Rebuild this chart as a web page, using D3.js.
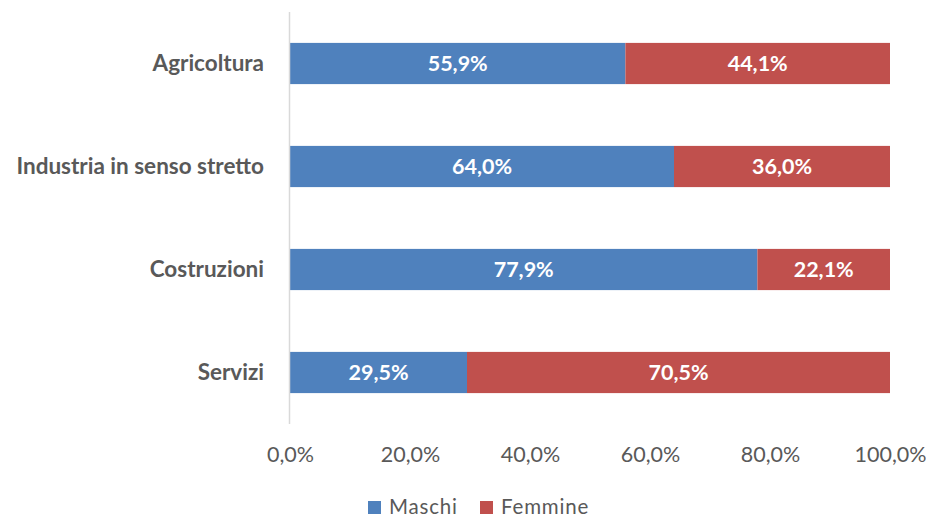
<!DOCTYPE html>
<html><head><meta charset="utf-8">
<script src="https://cdn.jsdelivr.net/npm/d3@7"></script>
<style>body{margin:0;background:#fff}svg{display:block}</style>
</head><body>
<svg id="c" width="926" height="520"></svg>
<script>
const categories = ["Agricoltura","Industria in senso stretto","Costruzioni","Servizi"];
const maschi = [55.9, 64.0, 77.9, 29.5];
const femmine = [44.1, 36.0, 22.1, 70.5];
const seriesNames = ["Maschi","Femmine"];
const ticks = [0,20,40,60,80,100];
const colors = ["#4F81BD","#C0504D"];

const svg = d3.select("#c");
const font = "Lato, 'Open Sans', sans-serif";
const x = d3.scaleLinear().domain([0,100]).range([290,890]);
const y = d3.scaleBand().domain(categories).range([12,424]).paddingInner(0.6).paddingOuter(0.3);

const data = categories.map((c,i)=>({cat:c, Maschi:maschi[i], Femmine:femmine[i]}));
const stack = d3.stack().keys(seriesNames)(data);

const g = svg.append("g");
stack.forEach((s,si)=>{
  g.selectAll(null).data(s).enter().append("rect")
    .attr("x",d=>x(d[0])).attr("width",d=>x(d[1])-x(d[0]))
    .attr("y",d=>y(d.data.cat)).attr("height",y.bandwidth())
    .attr("fill",colors[si]);
  g.selectAll(null).data(s).enter().append("text")
    .attr("x",d=>(x(d[0])+x(d[1]))/2).attr("y",d=>y(d.data.cat)+y.bandwidth()/2)
    .attr("dy","0.35em").attr("text-anchor","middle")
    .attr("fill","#fff").attr("font-family",font).attr("font-weight","bold").attr("font-size",21.5)
    .text(d=>(d[1]-d[0]).toFixed(1).replace(".",",")+"%");
});

// vertical axis line
svg.append("line").attr("x1",289.5).attr("x2",289.5).attr("y1",12).attr("y2",424)
  .attr("stroke","#d9d9d9").attr("stroke-width",1.5);

// category labels
svg.selectAll(".cl").data(categories).enter().append("text")
  .attr("x",264).attr("y",d=>y(d)+y.bandwidth()/2).attr("dy","0.33em")
  .attr("text-anchor","end").attr("fill","#595959")
  .attr("font-family",font).attr("font-weight","bold").attr("font-size",22.5)
  .text(d=>d);

// x ticks
const xa = d3.axisBottom(x).tickValues(ticks).tickSize(0)
  .tickFormat(d=>d.toFixed(1).replace(".",",")+"%");
const ax = svg.append("g").attr("transform","translate(0,444)").call(xa);
ax.select(".domain").remove();
ax.selectAll("text").attr("fill","#595959").attr("font-family",font).attr("font-size",21.5);

// legend
const leg = svg.append("g");
const lx = [368, 480];
seriesNames.forEach((n,i)=>{
  leg.append("rect").attr("x",lx[i]).attr("y",501).attr("width",13).attr("height",13).attr("fill",colors[i]);
  leg.append("text").attr("x",lx[i]+21).attr("y",506.5).attr("dy","0.35em")
    .attr("fill","#595959").attr("font-family",font).attr("font-size",20.5)
    .attr("letter-spacing",0.8).text(n);
});
</script>
</body></html>
